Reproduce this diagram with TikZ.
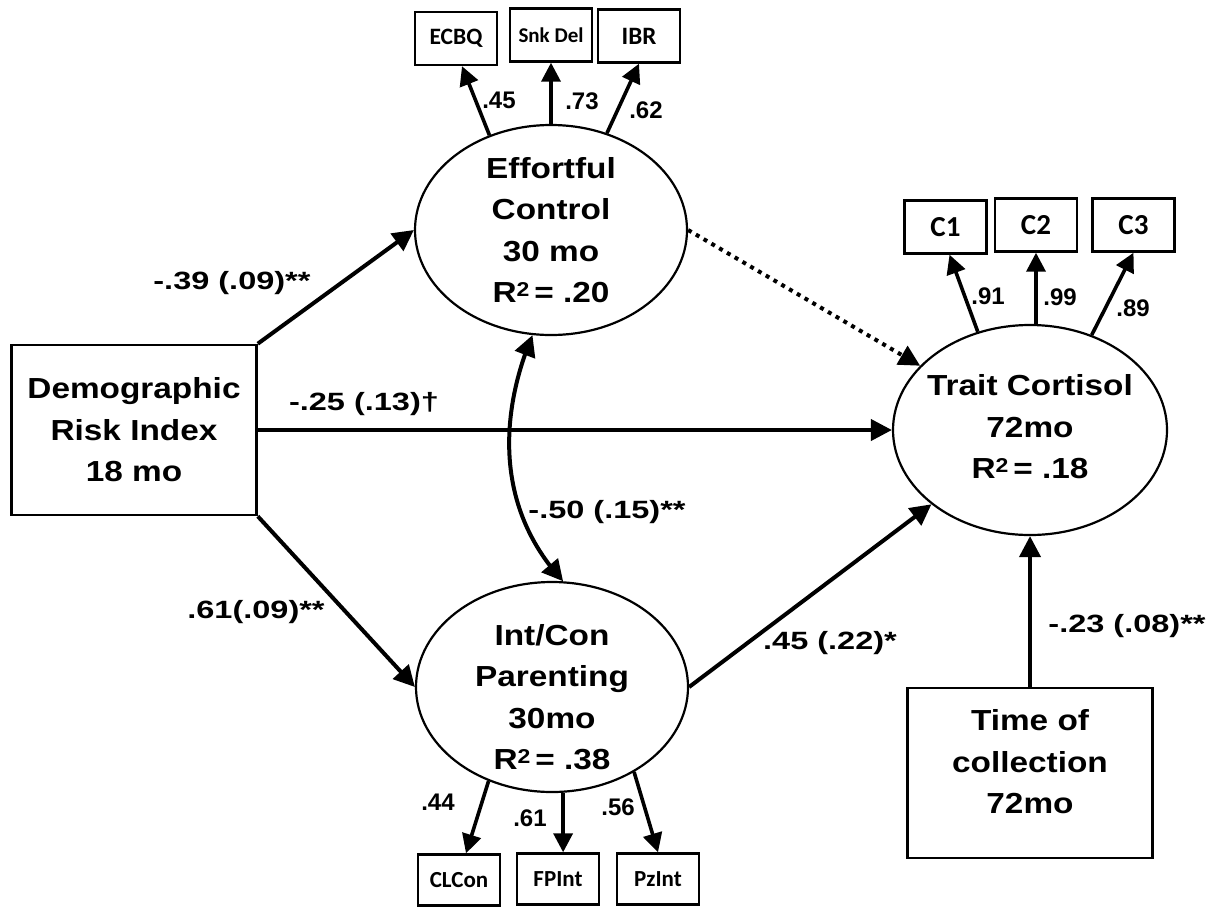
\documentclass[tikz,border=0pt]{standalone}
\usepackage{fontspec}
\setmainfont{Liberation Sans}
\newfontfamily\bigf{Liberation Sans}[FakeStretch=1.15]
\newfontfamily\labf{Liberation Sans}[FakeStretch=1.3]
\newfontfamily\smf{Carlito}
\usetikzlibrary{arrows.meta,shapes.geometric,bending}
\newcommand{\sqtwo}{\raisebox{6.5pt}{\fontsize{20}{20}\selectfont 2}}
\begin{document}
\begin{tikzpicture}[x=1pt,y=-1pt,
  lat/.style={ellipse, draw, line width=2.2pt, inner sep=0pt, minimum width=272pt, minimum height=210pt},
  bigtxt/.style={align=center, font=\bigf\bfseries\fontsize{29}{41.5}\selectfont, inner sep=0pt},
  obsbox/.style={draw, line width=2.6pt, minimum width=245pt, minimum height=170pt, inner sep=0pt},
  ind/.style={draw, line width=2.4pt, minimum width=82pt, minimum height=53pt, inner sep=0pt},
  arr/.style={line width=4pt, -{Triangle[length=21pt,width=21pt]}},
  larr/.style={line width=3.6pt, -{Triangle[length=19pt,width=19pt]}},
  plab/.style={font=\labf\bfseries\fontsize{25}{25}\selectfont, inner sep=0pt},
  llab/.style={font=\bfseries\fontsize{24}{24}\selectfont, inner sep=0pt}
]
\useasboundingbox[fill=white] (0,0) rectangle (1217,908);

% latent variables
\node[lat] (ec) at (551,230) {};
\node[bigtxt] (ectxt) at (551,230) {Effortful\\Control\\30 mo\\R\sqtwo\,= .20};
\node[lat] (ip) at (552,687) {};
\node[bigtxt] (iptxt) at (552,697) {Int/Con\\Parenting\\30mo\\R\sqtwo\,= .38};
\node[lat, minimum width=274pt] (tc) at (1030,430) {};
\node[bigtxt] (tctxt) at (1030,427) {Trait Cortisol\\72mo\\R\sqtwo\,= .18};

% observed boxes
\node[obsbox, bigtxt] (dem) at (134,430) {Demographic\\Risk Index\\18 mo};
\node[obsbox] (time) at (1030,773) {};
\node[bigtxt] (timetxt) at (1030,762) {Time of\\collection\\72mo};

% indicators
\node[ind, font=\smf\bfseries\fontsize{23.5}{24}\selectfont] (ecbq) at (456,38.5) {ECBQ};
\node[ind, font=\smf\bfseries\fontsize{21}{22}\selectfont] (snk) at (551,35) {Snk Del};
\node[ind, font=\smf\bfseries\fontsize{25}{26}\selectfont] (ibr) at (639,36) {IBR};
\node[ind, font=\smf\bfseries\fontsize{29}{30}\selectfont] (c1) at (945.5,227) {C1};
\node[ind, font=\smf\bfseries\fontsize{29}{30}\selectfont] (c2) at (1036,225) {C2};
\node[ind, font=\smf\bfseries\fontsize{29}{30}\selectfont] (c3) at (1133.5,225) {C3};
\node[ind, minimum height=51pt, font=\smf\bfseries\fontsize{23}{24}\selectfont] (clcon) at (459,880) {CLCon};
\node[ind, minimum height=51pt, font=\smf\bfseries\fontsize{23}{24}\selectfont] (fpint) at (558,879) {FPInt};
\node[ind, minimum height=51pt, font=\smf\bfseries\fontsize{23}{24}\selectfont] (pzint) at (658,879) {PzInt};

% structural paths
\draw[arr] (dem.north east) -- (ec.west);
\draw[arr] (dem.south east) -- (ip.west);
\draw[arr] (dem.east) -- (tc.west);
\draw[arr, dash pattern=on 4pt off 5pt] (ec.east) -- (tc);
\draw[arr] (ip.east) -- (tc);
\draw[arr] (time.north) -- (tc.south);
\draw[line width=4pt, {Triangle[length=21pt,width=21pt,flex]}-{Triangle[length=21pt,width=21pt,flex]}]
  (ec.260) .. controls (505,400) and (488,500) .. (ip.84);

% loadings
\draw[larr] (ec.123) -- ([xshift=6pt]ecbq.south);
\draw[larr] (ec.north) -- (snk.south);
\draw[larr] (ec.60) -- (ibr.south);
\draw[larr] (tc.118) -- ([xshift=4pt]c1.south);
\draw[larr] (tc.north -| c2.south) -- (c2.south);
\draw[larr] (tc.57) -- (c3.south);
\draw[larr] (ip.236) -- ([xshift=7pt]clcon.north);
\draw[larr] (ip.276) -- (ip.276 |- fpint.north);
\draw[larr] (ip.314) -- (pzint.north);

% path labels
\node[plab] (l39) at (232,283) {-.39 (.09)**};
\node[plab] (l25) at (364,404) {-.25 (.13)†};
\node[plab] (l61) at (256,612) {.61(.09)**};
\node[plab] (l50) at (607,512) {-.50 (.15)**};
\node[plab] (l45) at (830,643) {.45 (.22)*};
\node[plab] (l23) at (1127,626) {-.23 (.08)**};

% loading labels
\node[llab] (a45) at (499,100) {.45};
\node[llab] (a73) at (582,101) {.73};
\node[llab] (a62) at (646,110) {.62};
\node[llab] (a91) at (988,296) {.91};
\node[llab] (a99) at (1060,297) {.99};
\node[llab] (a89) at (1133,308) {.89};
\node[llab] (a44) at (438,802) {.44};
\node[llab] (a61) at (530,818) {.61};
\node[llab] (a56) at (618,807) {.56};
\end{tikzpicture}
\end{document}
